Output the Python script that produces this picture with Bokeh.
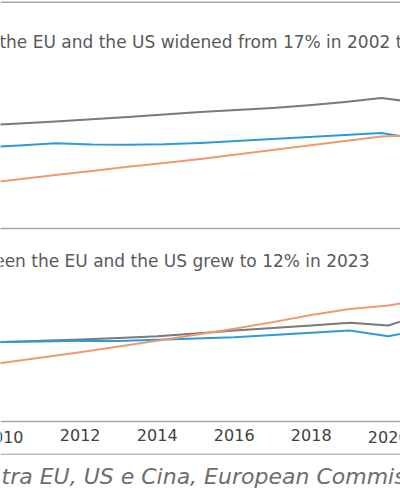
from bokeh.plotting import figure
from bokeh.layouts import column
from bokeh.models import Range1d, Label, FixedTicker, Span
from bokeh.embed import file_html
from bokeh.resources import INLINE

# ---- data ----
years_top = [2008, 2009, 2010, 2011, 2012, 2013, 2014, 2015, 2016, 2017, 2018, 2019, 2020]
us_top = [51.5, 52.5, 53.5, 54.6, 55.8, 57.0, 58.2, 59.2, 60.3, 61.6, 63.2, 65.2, 63.0]
eu_top = [40.5, 41.5, 42.6, 42.0, 41.9, 42.1, 42.8, 43.8, 44.8, 45.8, 46.8, 47.7, 45.0]
cn_top = [22.5, 24.6, 26.7, 28.8, 30.9, 32.7, 34.8, 37.0, 39.3, 41.5, 43.8, 46.0, 46.8]

years_bot = [2009, 2010, 2011, 2012, 2013, 2014, 2015, 2016, 2017, 2018, 2019, 2020, 2021]
us_bot = [43.3, 43.9, 44.6, 45.3, 46.2, 47.1, 48.6, 50.3, 51.7, 53.0, 54.5, 53.0, 59.9]
eu_bot = [43.5, 43.9, 44.2, 44.6, 44.5, 45.1, 45.9, 46.6, 47.8, 49.0, 50.3, 47.1, 51.3]
cn_bot = [29.5, 32.4, 35.4, 38.3, 41.4, 44.6, 47.9, 51.2, 54.9, 58.8, 62.2, 64.1, 67.7]

tick_years = [2010, 2012, 2014, 2016, 2018, 2020]
tick_labels = {2010: "2010", 2012: "2012", 2014: "2014", 2016: "2016", 2018: "2018", 2020: "2020"}

title_top = "between the EU and the US widened from 17% in 2002 to 30% in 2023"
title_bot = "between the EU and the US grew to 12% in 2023"
source_text = "tra EU, US e Cina, European Commission"

# ---- styles ----
GRAY = "#7a7a7a"
BLUE = "#2e9ad8"
ORANGE = "#ee9a6e"
AXIS = "#a6a6a6"
TITLE_COLOR = "#595959"
TICK_COLOR = "#404040"
FONT = "DejaVu Sans"
W = 400


def base_fig(height, xr, yr, bottom):
    p = figure(width=W, height=height, x_range=xr, y_range=yr,
               output_backend="svg", toolbar_location=None,
               y_axis_location=None, min_border=0, min_border_bottom=bottom,
               background_fill_color="white", border_fill_color="white",
               outline_line_color=None)
    p.xgrid.visible = False
    p.ygrid.visible = False
    return p

# ---- top panel ----
p1 = base_fig(240, Range1d(2008.481, 2019.530), Range1d(0, 114), 12)
p1.xaxis.ticker = FixedTicker(ticks=[])
p1.xaxis.axis_line_color = AXIS
p1.xaxis.axis_line_width = 1.5
p1.xaxis.major_tick_out = 0
p1.xaxis.major_tick_in = 0
p1.xaxis.minor_tick_line_color = None
p1.xaxis.major_label_standoff = 0
p1.add_layout(Span(location=113.1, dimension="width", line_color=AXIS, line_width=1.5))
for ys, c in ((us_top, GRAY), (eu_top, BLUE), (cn_top, ORANGE)):
    p1.line(years_top, ys, line_color=c, line_width=2, line_join="round")
p1.add_layout(Label(x=-80, y=186.5, x_units="screen", y_units="screen",
                    text=title_top, text_font=FONT, text_font_size="17px",
                    text_color=TITLE_COLOR, text_baseline="alphabetic",
                    text_align="left"))

# ---- bottom panel ----
# frame runs down to the chart border; the axis sits at value 0 inside it
p2 = base_fig(213, Range1d(2009.930, 2020.319), Range1d(-17.68, 100), 0)
edge_ticks = [tick_years[0], tick_years[-1]]
inner_ticks = [t for t in tick_years if t not in edge_ticks]
p2.xaxis.fixed_location = 0
p2.xaxis.ticker = FixedTicker(ticks=inner_ticks)
p2.xaxis.major_label_overrides = tick_labels
p2.xaxis.axis_line_color = AXIS
p2.xaxis.axis_line_width = 1.5
p2.xaxis.major_tick_line_color = None
p2.xaxis.minor_tick_line_color = None
p2.xaxis.major_tick_out = 0
p2.xaxis.major_tick_in = 0
p2.xaxis.major_label_standoff = 8
p2.xaxis.major_label_text_font = FONT
p2.xaxis.major_label_text_font_size = "16px"
p2.xaxis.major_label_text_color = TICK_COLOR
# the axis nudges edge labels inwards; the reference shows them cut by the edge
for t in edge_ticks:
    p2.add_layout(Label(x=t, y=-8.5, text=tick_labels[t],
                        text_font=FONT, text_font_size="16px",
                        text_color=TICK_COLOR, text_align="center",
                        text_baseline="middle"))
for ys, c in ((us_bot, GRAY), (eu_bot, BLUE), (cn_bot, ORANGE)):
    p2.line(years_bot, ys, line_color=c, line_width=2, line_join="round")
p2.add_layout(Label(x=369, y=193, x_units="screen", y_units="screen",
                    text=title_bot, text_font=FONT, text_font_size="17px",
                    text_color=TITLE_COLOR, text_baseline="alphabetic",
                    text_align="right"))

# ---- source line ----
p3 = base_fig(47, Range1d(0, W), Range1d(0, 47), 0)
p3.xaxis.visible = False
p3.add_layout(Span(location=46.5, dimension="width", line_color=AXIS, line_width=1.5))
p3.add_layout(Label(x=1, y=24, x_units="screen", y_units="screen",
                    text=source_text, text_font="DejaVu Sans",
                    text_font_style="italic", text_font_size="22px",
                    text_color="#6d6d6d", text_baseline="alphabetic",
                    text_align="left"))

layout = column(p1, p2, p3, spacing=0)
open("out.html", "w").write(file_html(layout, INLINE))
